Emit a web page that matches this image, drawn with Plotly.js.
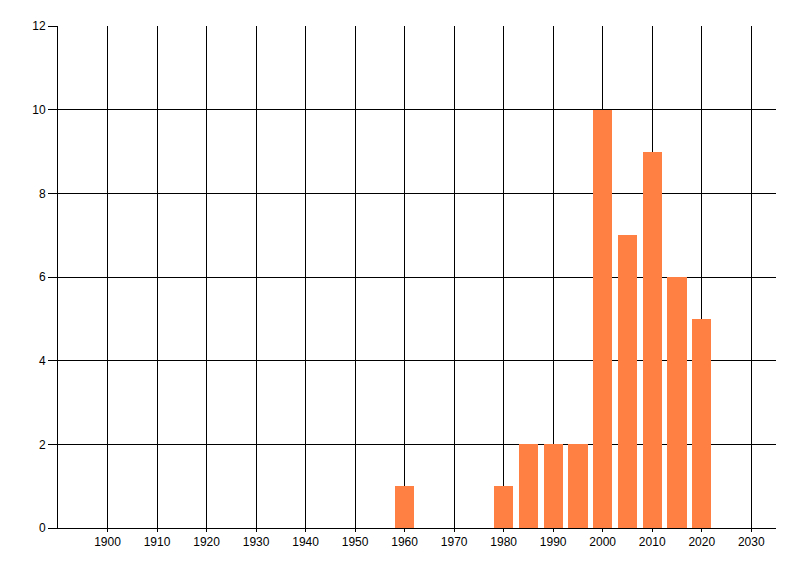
<!DOCTYPE html>
<html>
<head>
<meta charset="utf-8">
<script src="https://cdn.plot.ly/plotly-3.0.1.min.js"></script>
<style>
  html, body { margin: 0; padding: 0; background: #fff; }
  #chart { width: 800px; height: 576px; }
</style>
</head>
<body>
<div id="chart"></div>
<script>
// years (bin centres, 5-year steps) and counts
const years = [1960, 1980, 1985, 1990, 1995, 2000, 2005, 2010, 2015, 2020];
const counts = [1, 1, 2, 2, 2, 10, 7, 9, 6, 5];
// labelled x ticks (no label at the left edge, 1890)
const xTicks = [1900, 1910, 1920, 1930, 1940, 1950, 1960, 1970, 1980, 1990, 2000, 2010, 2020, 2030];
const yTicks = [0, 2, 4, 6, 8, 10, 12];

const barColor = '#FF8042';
const fontFamily = '"Liberation Sans", Arial, sans-serif';

const trace = {
    x: years,
    y: counts,
    type: 'bar',
    width: 3.9,
    marker: { color: barColor, line: { width: 0 } },
    hoverinfo: 'x+y'
};

const layout = {
    width: 800,
    height: 576,
    margin: { l: 58, r: 24, t: 26, b: 48 },
    paper_bgcolor: '#fff',
    plot_bgcolor: '#fff',
    font: { family: fontFamily, size: 12, color: '#000' },
    showlegend: false,
    xaxis: {
        range: [1890, 2035],
        tickmode: 'array',
        tickvals: xTicks,
        ticktext: xTicks.map(String),
        showgrid: true,
        gridcolor: '#000',
        gridwidth: 1,
        zeroline: false,
        showline: true,
        linecolor: '#000',
        linewidth: 1,
        ticks: 'outside',
        ticklen: 3,
        tickcolor: '#000',
        tickfont: { family: fontFamily, size: 12, color: '#000' }
    },
    yaxis: {
        range: [0, 12],
        tickmode: 'array',
        tickvals: yTicks,
        ticktext: yTicks.map(String),
        showgrid: true,
        gridcolor: '#000',
        gridwidth: 1,
        zeroline: false,
        showline: true,
        linecolor: '#000',
        linewidth: 1,
        ticks: 'outside',
        ticklen: 9,
        tickcolor: '#000',
        tickfont: { family: fontFamily, size: 12, color: '#000' }
    },
    bargap: 0
};

Plotly.newPlot('chart', [trace], layout, { displayModeBar: false, staticPlot: true });
</script>
</body>
</html>
